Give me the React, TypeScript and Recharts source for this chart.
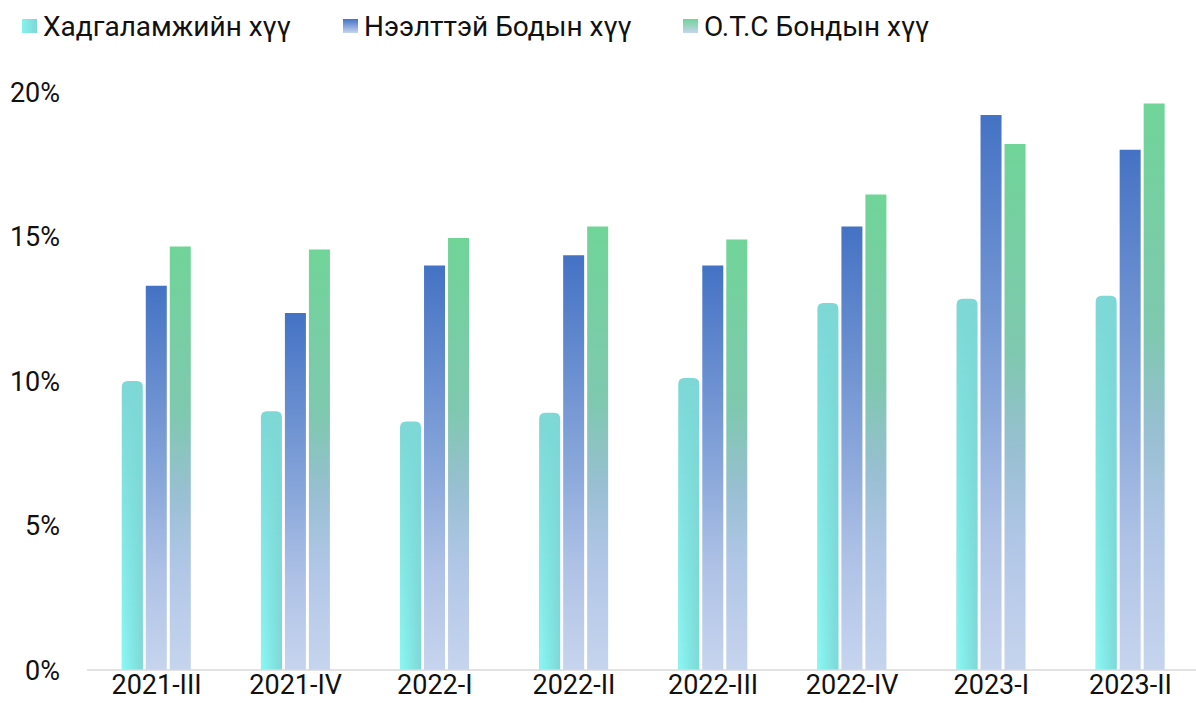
import { BarChart, Bar, XAxis, YAxis } from 'recharts'

const categories = ['2021-III', '2021-IV', '2022-I', '2022-II', '2022-III', '2022-IV', '2023-I', '2023-II']
const depositRate = [10.0, 8.95, 8.6, 8.9, 10.1, 12.7, 12.85, 12.95]
const openBondRate = [13.3, 12.35, 14.0, 14.35, 14.0, 15.35, 19.2, 18.0]
const otcBondRate = [14.65, 14.55, 14.95, 15.35, 14.9, 16.45, 18.2, 19.6]
const seriesNames = ['Хадгаламжийн хүү', 'Нээлттэй Бодын хүү', 'О.Т.С Бондын хүү']
const yTicks = [0, 5, 10, 15, 20]

const FONT = 'Roboto, "Noto Sans", sans-serif'

const data = categories.map((name, i) => ({
  name,
  deposit: depositRate[i],
  open: openBondRate[i],
  otc: otcBondRate[i],
}))

// rounded-top cylinder-ish bar for the deposit series
const CyanBar = (props: any) => {
  const { x, y, width, height } = props
  if (!height || height <= 0) return null
  const r = Math.min(6, width / 2, height)
  const d = `M${x},${y + height} L${x},${y + r} Q${x},${y} ${x + r},${y} L${x + width - r},${y} Q${x + width},${y} ${x + width},${y + r} L${x + width},${y + height} Z`
  return (
    <g>
      <path d={d} fill="#7DD8D6" />
      <path d={d} fill="url(#cyanH)" mask="url(#cyanMask)" />
    </g>
  )
}

const legendItems = [
  { name: seriesNames[0], left: 22, bg: 'linear-gradient(to right, #86F2EE, #7DD8D6)' },
  { name: seriesNames[1], left: 343, bg: 'linear-gradient(to bottom, #4472C4, #C6D4EE)' },
  { name: seriesNames[2], left: 683, bg: 'linear-gradient(to bottom, #70D498, #C6D4EE)' },
]

export default function App() {
  return (
    <div style={{ position: 'absolute', left: 0, top: 0, width: 1196, height: 703, background: '#fff', fontFamily: FONT }}>
      {legendItems.map((item) => (
        <div
          key={item.name}
          style={{ position: 'absolute', left: item.left, top: 10, display: 'flex', alignItems: 'center', height: 32 }}
        >
          <div style={{ width: 15, height: 14, background: item.bg, marginRight: 6 }} />
          <span style={{ fontSize: 28, color: '#111', whiteSpace: 'nowrap' }}>{item.name}</span>
        </div>
      ))}
      <BarChart
        width={1196}
        height={703}
        data={data}
        margin={{ top: 92, right: -4, left: 0, bottom: 0 }}
        barCategoryGap="25%"
        barGap={3}
      >
        <defs>
          <linearGradient id="blueV" x1="0" y1="0" x2="0" y2="1">
            <stop offset="0%" stopColor="#4472C4" />
            <stop offset="50%" stopColor="#88A6DA" />
            <stop offset="75%" stopColor="#AFC2E6" />
            <stop offset="100%" stopColor="#C6D4EE" />
          </linearGradient>
          <linearGradient id="greenV" x1="0" y1="0" x2="0" y2="1">
            <stop offset="0%" stopColor="#70D498" />
            <stop offset="40%" stopColor="#7FC8B0" />
            <stop offset="58%" stopColor="#98BFD2" />
            <stop offset="75%" stopColor="#B0C6E6" />
            <stop offset="100%" stopColor="#C6D4EE" />
          </linearGradient>
          <linearGradient id="cyanH" x1="0" y1="0" x2="1" y2="0">
            <stop offset="0%" stopColor="#8AF8F4" />
            <stop offset="100%" stopColor="#7DD8D6" />
          </linearGradient>
          <linearGradient id="fadeV" x1="0" y1="0" x2="0" y2="1">
            <stop offset="0%" stopColor="#fff" stopOpacity={0} />
            <stop offset="100%" stopColor="#fff" stopOpacity={1} />
          </linearGradient>
          <mask id="cyanMask" maskContentUnits="objectBoundingBox">
            <rect x="0" y="0" width="1" height="1" fill="url(#fadeV)" />
          </mask>
        </defs>
        <XAxis
          dataKey="name"
          height={33}
          axisLine={{ stroke: '#D9D9D9', strokeWidth: 1.5 }}
          tickLine={false}
          tickSize={0}
          tickMargin={5}
          tick={{ fill: '#111', fontSize: 27, fontFamily: FONT }}
        />
        <YAxis
          width={87}
          domain={[0, 20]}
          ticks={yTicks}
          tickFormatter={(v) => `${v}%`}
          axisLine={false}
          tickLine={false}
          tickSize={0}
          tickMargin={27}
          tick={{ fill: '#111', fontSize: 27, fontFamily: FONT }}
        />
        <Bar dataKey="deposit" name={seriesNames[0]} shape={<CyanBar />} isAnimationActive={false} />
        <Bar dataKey="open" name={seriesNames[1]} fill="url(#blueV)" isAnimationActive={false} />
        <Bar dataKey="otc" name={seriesNames[2]} fill="url(#greenV)" isAnimationActive={false} />
      </BarChart>
    </div>
  )
}
